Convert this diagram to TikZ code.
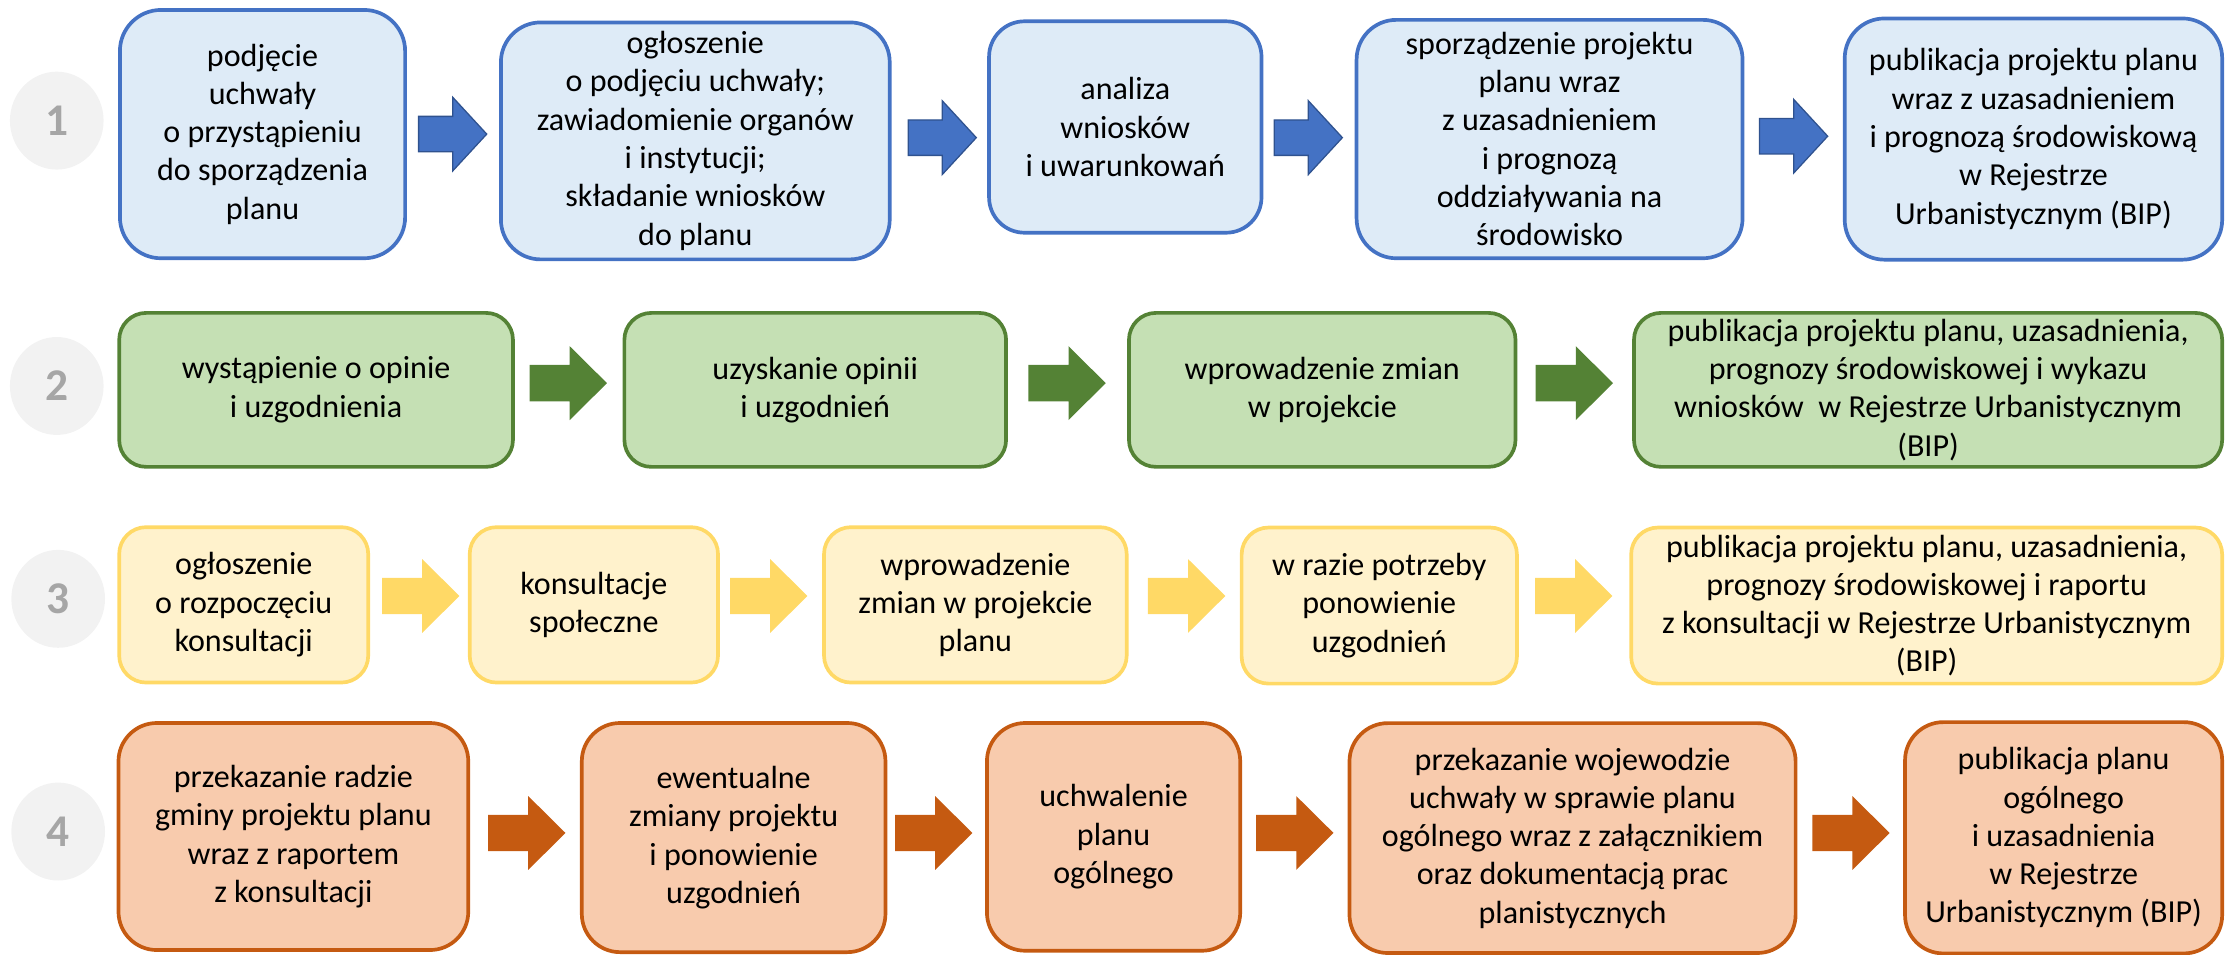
\documentclass[tikz,border=0pt]{standalone}
\usepackage{fontspec}
\setmainfont{Carlito}
\definecolor{bfill}{HTML}{DEEBF7}
\definecolor{bline}{HTML}{4472C4}
\definecolor{bdark}{HTML}{2F528F}
\definecolor{gfill}{HTML}{C5E0B4}
\definecolor{gline}{HTML}{548235}
\definecolor{yfill}{HTML}{FFF2CC}
\definecolor{yline}{HTML}{FFD966}
\definecolor{ofill}{HTML}{F8CBAD}
\definecolor{oline}{HTML}{C55A11}
\definecolor{cfill}{HTML}{F2F2F2}
\definecolor{ctext}{HTML}{A6A6A6}
\tikzset{
  stepbox/.style={rectangle, line width=2.6pt, align=center, inner sep=2pt,
    font=\fontsize{22.6}{27}\selectfont, text=black},
  boxA/.style={stepbox, fill=bfill, draw=bline},
  boxB/.style={stepbox, fill=gfill, draw=gline},
  boxC/.style={stepbox, fill=yfill, draw=yline},
  boxD/.style={stepbox, fill=ofill, draw=oline},
  numcirc/.style={ellipse, fill=cfill, minimum width=66pt, minimum height=69pt, inner sep=0pt,
    text=ctext, font=\fontsize{32}{36}\selectfont\bfseries},
  arrowsmall/.pic={\path[pic actions] (-24,-12.5) -- (0,-12.5) -- (0,-26) -- (24,0) -- (0,26) -- (0,12.5) -- (-24,12.5) -- cycle;},
  arrowbig/.pic={\path[pic actions] (-27.25,-12.8) -- (1,-12.8) -- (1,-26) -- (27.25,0) -- (1,26) -- (1,12.8) -- (-27.25,12.8) -- cycle;},
}
\usetikzlibrary{shapes.geometric}
\begin{document}
\begin{tikzpicture}[x=1pt,y=-1pt]
\useasboundingbox (0,0) rectangle (1568,672.3);
\clip (0,0) rectangle (1568,672.3);

% circles
\node[numcirc] (n1) at (40,85) {1};
\node[numcirc] (n2) at (40,272) {2};
\node[numcirc] (n3) at (41,422) {3};
\node[numcirc] (n4) at (41,586) {4};

% row 1
\node[boxA, minimum width=201pt, minimum height=175pt, rounded corners=29pt] (A1) at (185,94.5)
  {podjęcie\\uchwały\\o przystąpieniu\\do sporządzenia\\planu};
\node[boxA, minimum width=274pt, minimum height=167pt, rounded corners=28pt] (A2) at (490,99.3)
  {ogłoszenie\\o podjęciu uchwały;\\zawiadomienie organów\\i instytucji;\\składanie wniosków\\do planu};
\node[boxA, minimum width=192pt, minimum height=149pt, rounded corners=25pt] (A3) at (793,89.5)
  {analiza\\wniosków\\i uwarunkowań};
\node[boxA, minimum width=272pt, minimum height=168pt, rounded corners=28pt] (A4) at (1092,98)
  {sporządzenie projektu\\planu wraz\\z uzasadnieniem\\i prognozą\\oddziaływania na\\środowisko};
\node[boxA, minimum width=266pt, minimum height=170pt, rounded corners=28pt] (A5) at (1433,98)
  {publikacja projektu planu\\wraz z uzasadnieniem\\i prognozą środowiskową\\w Rejestrze\\Urbanistycznym (BIP)};
\pic[fill=bline, draw=bdark, line width=0.9pt] at (319,94.5) {arrowsmall};
\pic[fill=bline, draw=bdark, line width=0.9pt] at (664,97) {arrowsmall};
\pic[fill=bline, draw=bdark, line width=0.9pt] at (922,97) {arrowsmall};
\pic[fill=bline, draw=bdark, line width=0.9pt] at (1264,96) {arrowsmall};

% row 2
\node[boxB, minimum width=277.5pt, minimum height=108.5pt, rounded corners=19pt] (B1) at (222.75,274.75)
  {wystąpienie o opinie\\i uzgodnienia};
\node[boxB, minimum width=269pt, minimum height=108.5pt, rounded corners=19pt] (B2) at (574.5,274.75)
  {uzyskanie opinii\\i uzgodnień};
\node[boxB, minimum width=272.4pt, minimum height=108.5pt, rounded corners=19pt] (B3) at (931.8,274.75)
  {wprowadzenie zmian\\w projekcie};
\node[boxB, minimum width=414.5pt, minimum height=108.5pt, rounded corners=19pt] (B4) at (1358.75,274.75)
  {publikacja projektu planu, uzasadnienia,\\prognozy środowiskowej i wykazu\\wniosków\ \ w Rejestrze Urbanistycznym\\(BIP)};
\pic[fill=gline] at (400.5,270) {arrowbig};
\pic[fill=gline] at (752,270) {arrowbig};
\pic[fill=gline] at (1109.5,270) {arrowbig};

% row 3
\node[boxC, minimum width=175.5pt, minimum height=109.5pt, rounded corners=19pt] (C1) at (171.75,426.25)
  {ogłoszenie\\o rozpoczęciu\\konsultacji};
\node[boxC, minimum width=175pt, minimum height=109.5pt, rounded corners=19pt] (C2) at (418.5,426.25)
  {konsultacje\\społeczne};
\node[boxC, minimum width=213.3pt, minimum height=109.5pt, rounded corners=19pt] (C3) at (687.35,426.25)
  {wprowadzenie\\zmian w projekcie\\planu};
\node[boxC, minimum width=194pt, minimum height=110pt, rounded corners=19pt] (C4) at (972,426.75)
  {w razie potrzeby\\ponowienie\\uzgodnień};
\node[boxC, minimum width=416.5pt, minimum height=110pt, rounded corners=19pt] (C5) at (1357.75,426.75)
  {publikacja projektu planu, uzasadnienia,\\prognozy środowiskowej i raportu\\z konsultacji w Rejestrze Urbanistycznym\\(BIP)};
\pic[fill=yline] at (296.5,420) {arrowbig};
\pic[fill=yline] at (541.75,420) {arrowbig};
\pic[fill=yline] at (836.25,420) {arrowbig};
\pic[fill=yline] at (1109,420) {arrowbig};

% row 4
\node[boxD, minimum width=246.5pt, minimum height=160pt, rounded corners=27pt] (D1) at (206.75,589.5)
  {przekazanie radzie\\gminy projektu planu\\wraz z raportem\\z konsultacji};
\node[boxD, minimum width=214pt, minimum height=161.5pt, rounded corners=27pt] (D2) at (517,590.25)
  {ewentualne\\zmiany projektu\\i ponowienie\\uzgodnień};
\node[boxD, minimum width=178.5pt, minimum height=160.5pt, rounded corners=27pt] (D3) at (784.75,589.75)
  {uchwalenie\\planu\\ogólnego};
\node[boxD, minimum width=314.4pt, minimum height=162pt, rounded corners=27pt] (D4) at (1108.2,590.6)
  {przekazanie wojewodzie\\uchwały w sprawie planu\\ogólnego wraz z załącznikiem\\oraz dokumentacją prac\\planistycznych};
\node[boxD, minimum width=223.5pt, minimum height=163pt, rounded corners=27pt] (D5) at (1454.25,590.4)
  {publikacja planu\\ogólnego\\i uzasadnienia\\w Rejestrze\\Urbanistycznym (BIP)};
\pic[fill=oline] at (371.25,587) {arrowbig};
\pic[fill=oline] at (658,587) {arrowbig};
\pic[fill=oline] at (912.5,587) {arrowbig};
\pic[fill=oline] at (1304.4,587) {arrowbig};
\end{tikzpicture}
\end{document}
